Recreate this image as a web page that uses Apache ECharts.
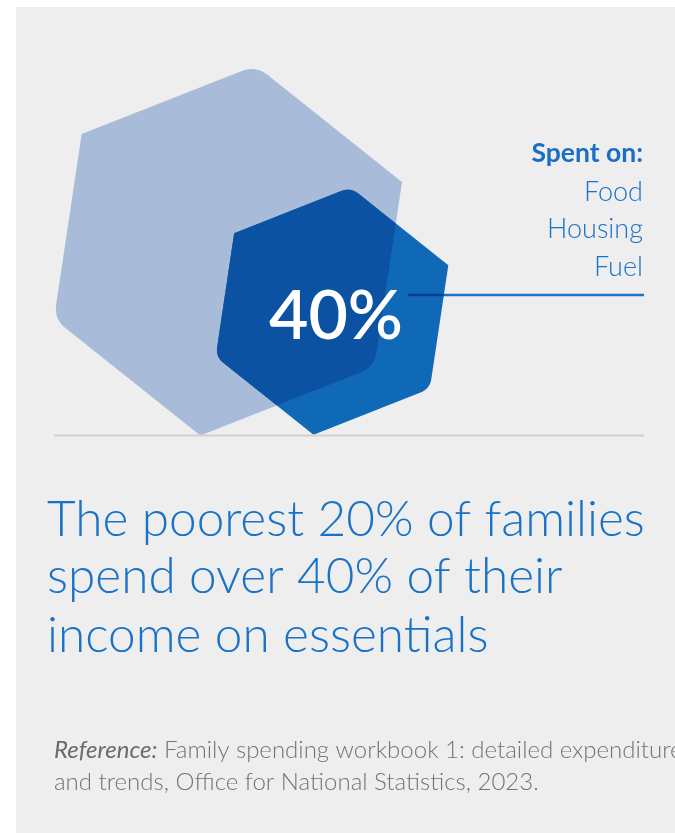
<!DOCTYPE html>
<html>
<head>
<meta charset="utf-8">
<script src="https://cdn.jsdelivr.net/npm/echarts@6/dist/echarts.min.js"></script>
<style>
html, body { margin: 0; padding: 0; background: #ffffff; }
#chart { width: 675px; height: 833px; }
</style>
</head>
<body>
<div id="chart"></div>
<script>
// ---- data ----
const hexNames = ['All income', 'Spent on essentials'];
const hexCentreX = [228, 332];
const hexCentreY = [250.5, 311];
const hexRadius = [187, 125];
const headlineValue = '40%';
const spentOnTitle = 'Spent on:';
const spentOnItems = ['Food', 'Housing', 'Fuel'];
const headingLines = ['The poorest 20% of families', 'spend over 40% of their', 'income on essentials'];
const referenceLabel = 'Reference:';
const referenceLines = [' Family spending workbook 1: detailed expenditure', 'and trends, Office for National Statistics, 2023.'];

// ---- build ----
const FONT = 'Lato, "Open Sans", sans-serif';
const BLUE = '#1a72c6';
const HEX_LIGHT = '#a8bcd9';
const HEX_DARK = '#1069b6';
const HEX_OVERLAP = '#0b52a3';
const LINE_BLUE = '#1a73c8';
const LINE_NAVY = '#0a3c98';
const CALLOUT_Y = 295, CALLOUT_X1 = 408, CALLOUT_X2 = 644;

const hexData = hexNames.map((n, i) => ({ name: n, value: [hexCentreX[i], hexCentreY[i], hexRadius[i]] }));

// hexagon outline (with alternate rounded corners) flattened into points
function hexPolygon(cx, cy, r) {
  const rot = -81.5 * Math.PI / 180;
  const pts = [];
  for (let k = 0; k < 6; k++) {
    const a = rot + k * Math.PI / 3;
    pts.push([cx + r * Math.cos(a), cy + r * Math.sin(a)]);
  }
  const t = 0.08, steps = 10;
  const out = [];
  for (let k = 0; k < 6; k++) {
    const p = pts[k];
    if (k % 2 === 0) {
      const prev = pts[(k + 5) % 6], next = pts[(k + 1) % 6];
      const p1 = [p[0] + (prev[0] - p[0]) * t, p[1] + (prev[1] - p[1]) * t];
      const p2 = [p[0] + (next[0] - p[0]) * t, p[1] + (next[1] - p[1]) * t];
      for (let s = 0; s <= steps; s++) {
        const u = s / steps, v = 1 - u;
        out.push([v * v * p1[0] + 2 * v * u * p[0] + u * u * p2[0], v * v * p1[1] + 2 * v * u * p[1] + u * u * p2[1]]);
      }
    } else {
      out.push(p);
    }
  }
  return out;
}

function clipPoly(subject, clip) {
  let area = 0;
  for (let i = 0; i < clip.length; i++) {
    const a = clip[i], b = clip[(i + 1) % clip.length];
    area += a[0] * b[1] - b[0] * a[1];
  }
  const sg = area > 0 ? 1 : -1;
  let out = subject;
  for (let i = 0; i < clip.length && out.length; i++) {
    const A = clip[i], B = clip[(i + 1) % clip.length];
    const side = P => sg * ((B[0] - A[0]) * (P[1] - A[1]) - (B[1] - A[1]) * (P[0] - A[0]));
    const input = out; out = [];
    for (let j = 0; j < input.length; j++) {
      const P = input[j], Q = input[(j + 1) % input.length];
      const sp = side(P), sq = side(Q);
      const cross = () => { const tt = sp / (sp - sq); return [P[0] + (Q[0] - P[0]) * tt, P[1] + (Q[1] - P[1]) * tt]; };
      if (sp >= 0) { out.push(P); if (sq < 0) out.push(cross()); }
      else if (sq >= 0) out.push(cross());
    }
  }
  return out;
}

function spanAtY(poly, y) {
  let lo = Infinity, hi = -Infinity;
  for (let i = 0; i < poly.length; i++) {
    const P = poly[i], Q = poly[(i + 1) % poly.length];
    if ((P[1] - y) * (Q[1] - y) <= 0 && P[1] !== Q[1]) {
      const x = P[0] + (Q[0] - P[0]) * (y - P[1]) / (Q[1] - P[1]);
      lo = Math.min(lo, x); hi = Math.max(hi, x);
    }
  }
  return [lo, hi];
}

const graphics = [
  { type: 'rect', z: -10, shape: { x: 16, y: 7, width: 700, height: 900 }, style: { fill: '#eeeeee' }, silent: true },
  { type: 'line', z: 0, shape: { x1: CALLOUT_X1, y1: CALLOUT_Y, x2: CALLOUT_X2, y2: CALLOUT_Y }, style: { stroke: LINE_BLUE, lineWidth: 2.6 } },
  { type: 'line', z: 100, shape: { x1: 54, y1: 435.5, x2: 644, y2: 435.5 }, style: { stroke: '#d3cfca', lineWidth: 2 } },
  { type: 'text', z: 100, x: 336, y: 317, style: { text: headlineValue, fill: '#ffffff', font: '600 68px ' + FONT, textAlign: 'center', textVerticalAlign: 'middle' } },
  { type: 'text', z: 100, x: 643, y: 153.5, style: { text: spentOnTitle, fill: '#1a6fc4', font: 'bold 26.5px ' + FONT, textAlign: 'right', textVerticalAlign: 'middle' } }
];
const itemY = [191.8, 229.4, 266.8];
spentOnItems.forEach((s, i) => graphics.push({ type: 'text', z: 100, x: 643, y: itemY[i], style: { text: s, fill: BLUE, font: '300 27px ' + FONT, textAlign: 'right', textVerticalAlign: 'middle' } }));
const headY = [520.3, 576.8, 636.3];
headingLines.forEach((s, i) => graphics.push({ type: 'text', z: 100, x: 47, y: headY[i], style: { text: s, fill: BLUE, font: '300 49.5px ' + FONT, textAlign: 'left', textVerticalAlign: 'middle' } }));
graphics.push({ type: 'text', z: 100, x: 54, y: 750.3, style: {
  text: '{i|' + referenceLabel + '}{n|' + referenceLines[0] + '}',
  textAlign: 'left', textVerticalAlign: 'middle',
  rich: {
    i: { fill: '#6f6b66', font: 'italic 400 24px ' + FONT },
    n: { fill: '#77736e', font: '300 24px ' + FONT }
  }
} });
graphics.push({ type: 'text', z: 100, x: 54, y: 782.3, style: { text: referenceLines[1], fill: '#77736e', font: '300 24px ' + FONT, textAlign: 'left', textVerticalAlign: 'middle' } });

const chart = echarts.init(document.getElementById('chart'), null, { renderer: 'canvas' });
chart.setOption({
  backgroundColor: '#ffffff',
  animation: false,
  grid: { left: 0, top: 0, right: 0, bottom: 0 },
  xAxis: { type: 'value', min: 0, max: 675, show: false },
  yAxis: { type: 'value', min: 0, max: 833, inverse: true, show: false },
  graphic: { elements: graphics },
  series: [{
    type: 'custom',
    clip: false,
    z: 5,
    data: hexData,
    renderItem: function (params, api) {
      const i = params.dataIndex;
      const c = api.coord([api.value(0), api.value(1)]);
      const r = Math.abs(api.size([api.value(2), 0])[0]);
      const poly = hexPolygon(c[0], c[1], r);
      if (i === 0) {
        return { type: 'polygon', shape: { points: poly }, style: { fill: HEX_LIGHT } };
      }
      // overlap with the first hexagon, drawn darker
      const c0 = api.coord([hexCentreX[0], hexCentreY[0]]);
      const r0 = Math.abs(api.size([hexRadius[0], 0])[0]);
      const overlap = clipPoly(poly, hexPolygon(c0[0], c0[1], r0));
      const span = spanAtY(poly, CALLOUT_Y);
      const children = [
        { type: 'polygon', shape: { points: poly }, style: { fill: HEX_DARK } },
        { type: 'polygon', shape: { points: overlap }, style: { fill: HEX_OVERLAP } }
      ];
      if (span[1] > CALLOUT_X1) {
        children.push({ type: 'line', shape: { x1: Math.max(CALLOUT_X1, span[0]), y1: CALLOUT_Y, x2: Math.min(CALLOUT_X2, span[1]), y2: CALLOUT_Y }, style: { stroke: LINE_NAVY, lineWidth: 2.6 } });
      }
      return { type: 'group', children: children };
    }
  }]
});
</script>
</body>
</html>
